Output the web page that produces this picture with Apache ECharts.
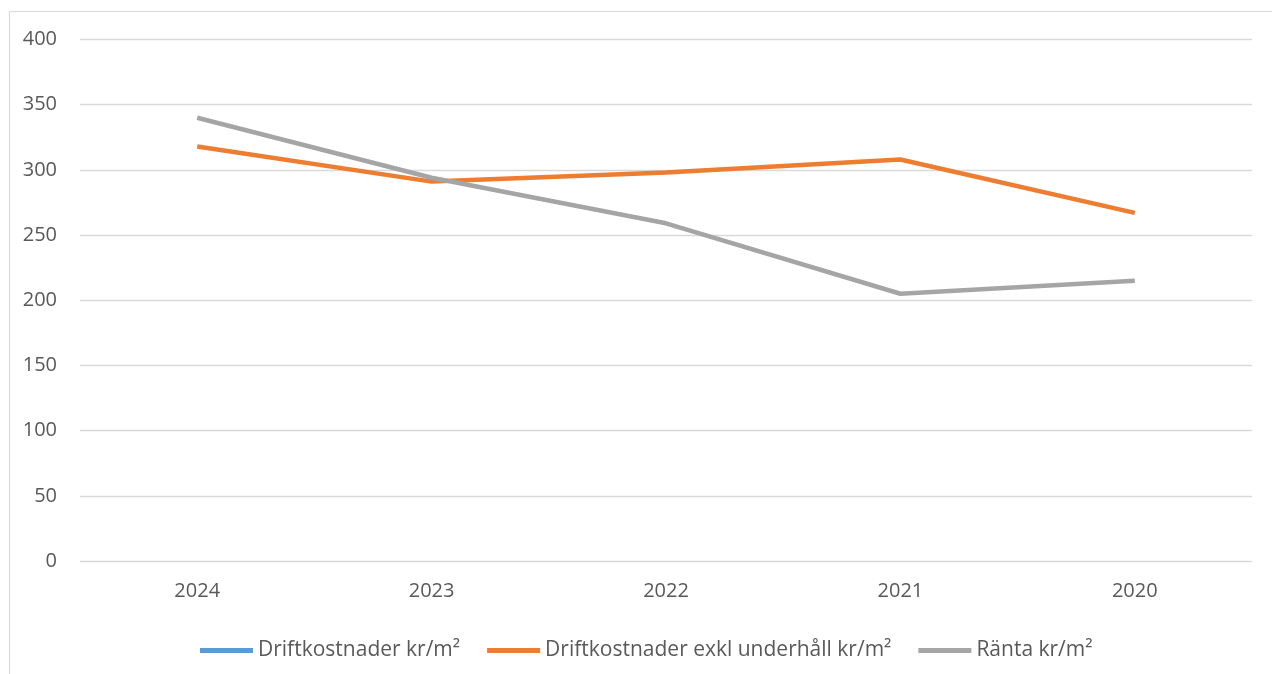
<!DOCTYPE html>
<html>
<head>
<meta charset="utf-8">
<script src="https://cdn.jsdelivr.net/npm/echarts@6/dist/echarts.min.js"></script>
<style>
html,body{margin:0;padding:0;background:#fff;}
#chart{width:1272px;height:674px;}
</style>
</head>
<body>
<div id="chart"></div>
<script>
const categories = ['2024', '2023', '2022', '2021', '2020'];
const driftkostnader = [null, null, null, null, null];
const driftkostnaderExkl = [318, 291, 298, 308, 267];
const ranta = [340, 294, 259, 205, 215];
const seriesNames = ['Driftkostnader kr/m²', 'Driftkostnader exkl underhåll kr/m²', 'Ränta kr/m²'];
const yTicks = { min: 0, max: 400, interval: 50 };

const textColor = '#595959';
const font = 'Open Sans';
const chart = echarts.init(document.getElementById('chart'), null, { renderer: 'canvas' });
chart.setOption({
  backgroundColor: '#ffffff',
  animation: false,
  graphic: [{
    type: 'rect',
    shape: { x: 9.5, y: 11.5, width: 1300, height: 700 },
    style: { fill: 'none', stroke: '#d9d9d9', lineWidth: 1.2 },
    silent: true
  }],
  grid: { left: 80, right: 20, top: 39.5, bottom: 113, containLabel: false },
  legend: {
    left: 200,
    top: 640,
    padding: 0,
    itemWidth: 53,
    itemHeight: 5,
    itemGap: 27,
    icon: 'rect',
    textStyle: { color: textColor, fontFamily: font, fontSize: 21 },
    data: seriesNames
  },
  xAxis: {
    type: 'category',
    data: categories,
    boundaryGap: true,
    axisLine: { show: false },
    axisTick: { show: false },
    axisLabel: { color: textColor, fontFamily: font, fontSize: 20, margin: 20 }
  },
  yAxis: {
    type: 'value',
    min: yTicks.min,
    max: yTicks.max,
    interval: yTicks.interval,
    axisLine: { show: false },
    axisTick: { show: false },
    axisLabel: { color: textColor, fontFamily: font, fontSize: 20, margin: 23 },
    splitLine: { lineStyle: { color: '#d9d9d9', width: 1.3 } }
  },
  series: [
    { name: seriesNames[0], type: 'line', data: driftkostnader, showSymbol: false, symbol: 'none',
      itemStyle: { color: '#5b9bd5' }, lineStyle: { color: '#5b9bd5', width: 4.5 } },
    { name: seriesNames[1], type: 'line', data: driftkostnaderExkl, showSymbol: false, symbol: 'none',
      itemStyle: { color: '#ed7d31' }, lineStyle: { color: '#ed7d31', width: 4.5 } },
    { name: seriesNames[2], type: 'line', data: ranta, showSymbol: false, symbol: 'none',
      itemStyle: { color: '#a5a5a5' }, lineStyle: { color: '#a5a5a5', width: 4.5 } }
  ]
});
</script>
</body>
</html>
